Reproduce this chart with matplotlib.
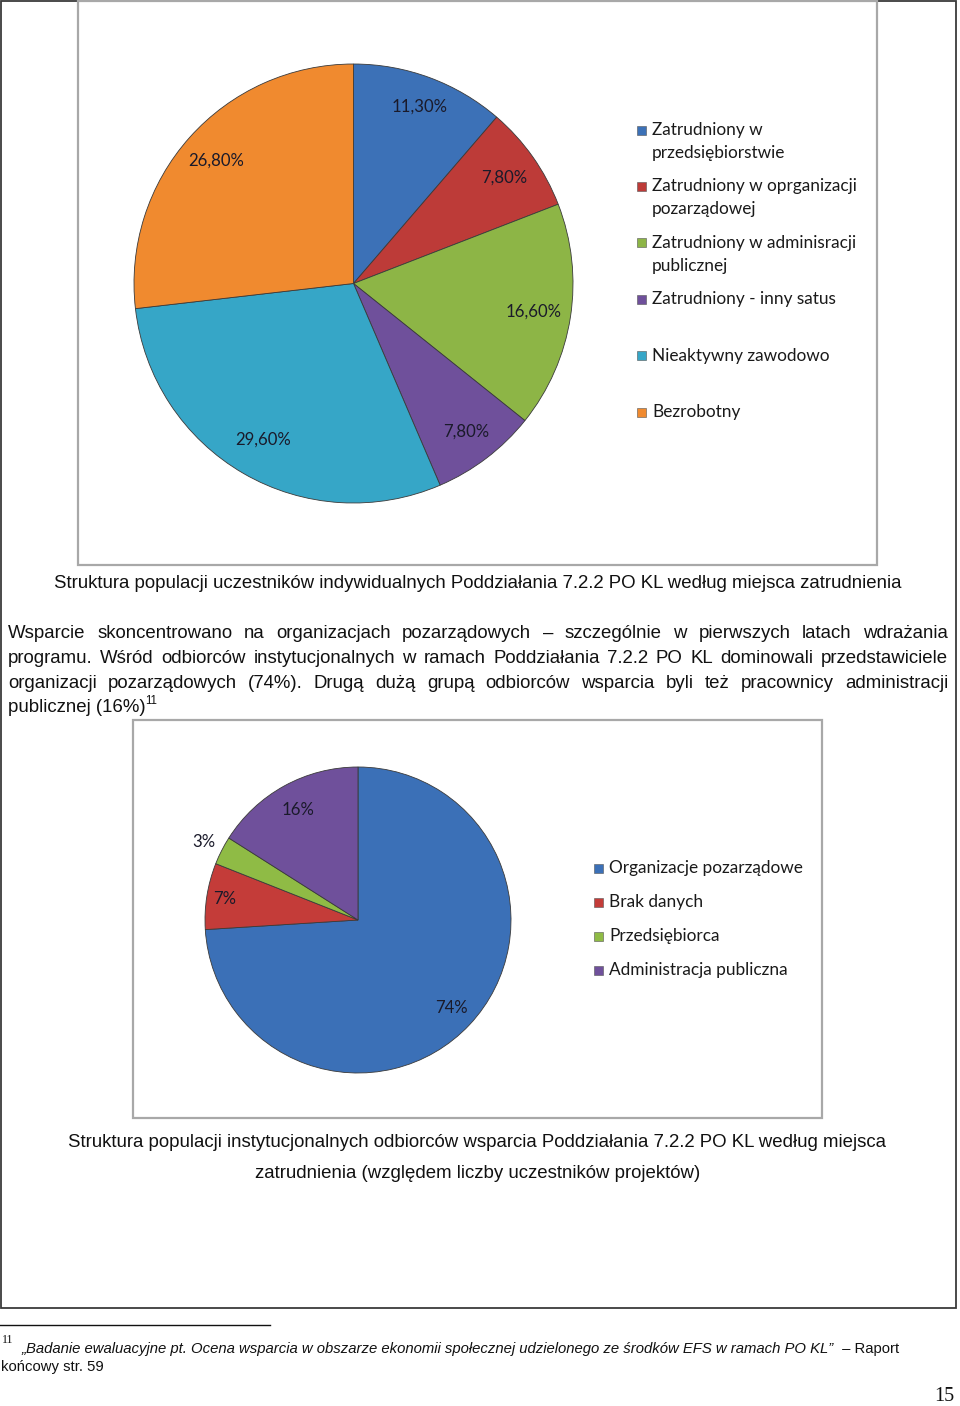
import matplotlib
matplotlib.use("Agg")
import matplotlib.pyplot as plt
import numpy as np
import textwrap
from matplotlib.patches import Rectangle

# ---------------- data ----------------
status_categories = [
    "Zatrudniony w przedsiębiorstwie",
    "Zatrudniony w oprganizacji pozarządowej",
    "Zatrudniony w adminisracji publicznej",
    "Zatrudniony - inny satus",
    "Nieaktywny zawodowo",
    "Bezrobotny",
]
status_values = [11.3, 7.8, 16.6, 7.8, 29.6, 26.8]

inst_categories = [
    "Organizacje pozarządowe",
    "Brak danych",
    "Przedsiębiorca",
    "Administracja publiczna",
]
inst_values = [74, 7, 3, 16]

caption1 = ("Struktura populacji uczestników indywidualnych Poddziałania 7.2.2 PO KL "
            "według miejsca zatrudnienia")
paragraph_lines = [
    "Wsparcie skoncentrowano na organizacjach pozarządowych – szczególnie w pierwszych latach wdrażania",
    "programu. Wśród odbiorców instytucjonalnych w ramach Poddziałania 7.2.2 PO KL dominowali przedstawiciele",
    "organizacji pozarządowych (74%). Drugą dużą grupą odbiorców wsparcia byli też pracownicy administracji",
    "publicznej (16%)",
]
caption2_lines = [
    "Struktura populacji instytucjonalnych odbiorców wsparcia Poddziałania 7.2.2 PO KL według miejsca",
    "zatrudnienia (względem liczby uczestników projektów)",
]
footnote_italic = ("„Badanie ewaluacyjne pt. Ocena wsparcia w obszarze ekonomii społecznej "
                   "udzielonego ze środków EFS w ramach PO KL”")
footnote_rest = " – Raport"
footnote_line2 = "końcowy str. 59"
footnote_mark = "11"
page_number = "15"

# ---------------- style ----------------
W, H = 960, 1406
status_colors = ["#3c71b7", "#bd3b38", "#8db546", "#6f509b", "#36a6c7", "#f08a2f"]
inst_colors = ["#3b70b7", "#c43c39", "#8fbb45", "#6f509b"]
CAL = ["Lato", "DejaVu Sans"]
ARIAL = ["Liberation Sans", "DejaVu Sans"]
SERIF = ["Liberation Serif", "DejaVu Serif"]

fig = plt.figure(figsize=(W / 100, H / 100), dpi=100)
page = fig.add_axes([0, 0, 1, 1])
page.set_xlim(0, W)
page.set_ylim(H, 0)
page.axis("off")
renderer = fig.canvas.get_renderer()


def text_width(s, size, **kw):
    t = page.text(0, 0, s, fontsize=size, **kw)
    w = t.get_window_extent(renderer=renderer).width
    t.remove()
    return w


def fit_size(s, target, **kw):
    return 12 * target / text_width(s, 12, **kw)


# frames
page.add_patch(Rectangle((1, 1), 955, 1307, fill=False, ec="#3a3a3a", lw=1.3))
page.add_patch(Rectangle((78, 1), 799, 564, fill=False, ec="#a8a8a8", lw=1.6))
page.add_patch(Rectangle((133, 720), 689, 398, fill=False, ec="#a8a8a8", lw=1.6))


def draw_pie(cx, cy, r, values, colors, fracs, labels, lab_size):
    pad = 1.04
    ax = fig.add_axes([(cx - r * pad) / W, (H - cy - r * pad) / H,
                       2 * r * pad / W, 2 * r * pad / H])
    wedges, _ = ax.pie(values, colors=colors, startangle=90, counterclock=False,
                       radius=1, wedgeprops=dict(edgecolor="#3a3a3a", linewidth=0.6))
    ax.set_xlim(-pad, pad)
    ax.set_ylim(-pad, pad)
    ax.axis("off")
    for w, f, lab in zip(wedges, fracs, labels):
        ang = np.deg2rad((w.theta1 + w.theta2) / 2)
        ax.text(f * np.cos(ang), f * np.sin(ang), lab, ha="center", va="center",
                fontsize=lab_size, family=CAL, color="#1a1a2a")
    return ax


lab_size = fit_size("11,30%", 56, family=CAL)
status_labels = [f"{v:.2f}%".replace(".", ",") for v in status_values]
inst_labels = [f"{v}%" for v in inst_values]

draw_pie(353.5, 283.5, 219.5, status_values, status_colors,
         [0.86, 0.84, 0.83, 0.85, 0.82, 0.84], status_labels, lab_size)
draw_pie(358, 920, 153, inst_values, inst_colors,
         [0.84, 0.88, 1.13, 0.82], inst_labels, lab_size)

# legends
leg_size = fit_size("Zatrudniony w oprganizacji", 205, family=CAL)


def draw_legend(x_marker, y_first, step, line_step, cats, colors, wrap):
    y = y_first
    for cat, col in zip(cats, colors):
        lines = textwrap.wrap(cat, wrap) if wrap else [cat]
        page.add_patch(Rectangle((x_marker - 4.5, y - 4.5), 9, 9, fc=col,
                                 ec="#555555", lw=0.4))
        for i, ln in enumerate(lines):
            page.text(x_marker + 11, y + i * line_step + 5, ln, fontsize=leg_size,
                      family=CAL, va="baseline", ha="left", color="#1a1a1a")
        y += step


draw_legend(641, 130, 56.4, 23, status_categories, status_colors, 26)
draw_legend(598, 868, 34, 23, inst_categories, inst_colors, None)

# captions
cap_size = fit_size(caption1, 853, family=ARIAL)
page.text(477.5, 588, caption1, fontsize=cap_size, family=ARIAL, ha="center",
          va="baseline", color="#111111")
page.text(477.5, 1147, caption2_lines[0], fontsize=cap_size, family=ARIAL,
          ha="center", va="baseline", color="#111111")
page.text(477.5, 1178, caption2_lines[1], fontsize=cap_size, family=ARIAL,
          ha="center", va="baseline", color="#111111")

# justified paragraph
left, right = 8, 948
par_size = cap_size
baselines = [638, 663, 688, 712]
for k, (ln, yb) in enumerate(zip(paragraph_lines, baselines)):
    words = ln.split(" ")
    if k < len(paragraph_lines) - 1:
        ws = [text_width(w, par_size, family=ARIAL) for w in words]
        gap = (right - left - sum(ws)) / (len(words) - 1)
        x = left
        for w, wd in zip(words, ws):
            page.text(x, yb, w, fontsize=par_size, family=ARIAL, va="baseline",
                      ha="left", color="#111111")
            x += wd + gap
    else:
        page.text(left, yb, ln, fontsize=par_size, family=ARIAL, va="baseline",
                  ha="left", color="#111111")
        wl = text_width(ln, par_size, family=ARIAL)
        page.text(left + wl, yb - 8, footnote_mark, fontsize=par_size * 0.62,
                  family=ARIAL, va="baseline", ha="left", color="#111111")

# footnote
page.plot([0, 270], [1325, 1325], color="#111111", lw=1.0)
w_it = text_width(footnote_italic, 10, family=ARIAL, style="italic")
w_re = text_width(footnote_rest, 10, family=ARIAL)
fn_size = 10 * (899 - 22) / (w_it + w_re)
page.text(2, 1343, footnote_mark, fontsize=fn_size * 0.8, family=SERIF,
          va="baseline", ha="left", color="#111111")
page.text(22, 1353, footnote_italic, fontsize=fn_size, family=ARIAL, style="italic",
          va="baseline", ha="left", color="#111111")
page.text(22 + w_it * fn_size / 10, 1353, footnote_rest, fontsize=fn_size,
          family=ARIAL, va="baseline", ha="left", color="#111111")
page.text(1, 1371, footnote_line2, fontsize=fn_size, family=ARIAL,
          va="baseline", ha="left", color="#111111")

# page number
page.text(954, 1401, page_number, fontsize=14.5, family=SERIF,
          ha="right", va="baseline", color="#111111")

fig.savefig("out.png", dpi=100)
